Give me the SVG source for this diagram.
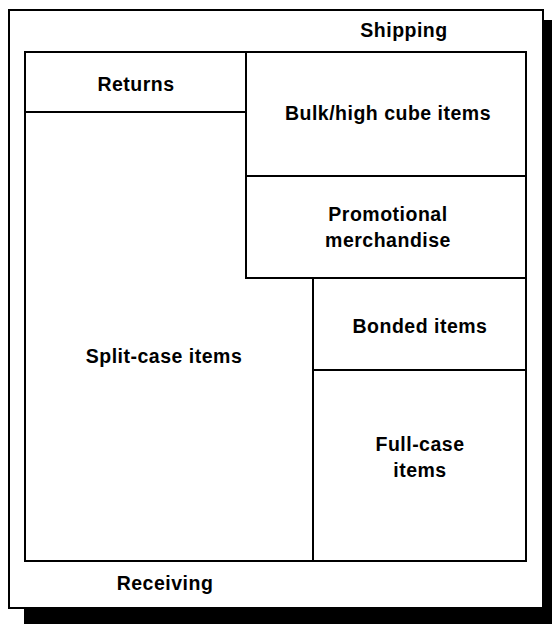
<svg xmlns="http://www.w3.org/2000/svg" width="552" height="624" viewBox="0 0 552 624">
<style>
.box{fill:none;stroke:#000;stroke-width:2;stroke-linejoin:miter}
.t{font-family:"Liberation Sans",Arial,Helvetica,sans-serif;font-weight:bold;font-size:19.5px;letter-spacing:0.5px;fill:#000;text-anchor:middle}
</style>
<rect x="0" y="0" width="552" height="624" fill="#fff"/>
<rect x="24" y="20" width="530" height="606" fill="#000"/>
<g id="frame">
<rect x="9" y="10" width="534" height="598" fill="#fff" stroke="#000" stroke-width="2"/>
<text class="t" x="404" y="37">Shipping</text>
<text class="t" x="165" y="590">Receiving</text>
</g>
<g id="returns">
<rect class="box" x="25" y="52" width="221" height="60"/>
<text class="t" x="136" y="91">Returns</text>
</g>
<g id="bulk">
<rect class="box" x="246" y="52" width="280" height="124"/>
<text class="t" x="388" y="120">Bulk/high cube items</text>
</g>
<g id="promotional">
<rect class="box" x="246" y="176" width="280" height="102"/>
<text class="t" x="388" y="221">Promotional</text>
<text class="t" x="388" y="247">merchandise</text>
</g>
<g id="split-case">
<path class="box" d="M25 112H246V278H313V561H25Z"/>
<text class="t" x="164" y="363">Split-case items</text>
</g>
<g id="bonded">
<rect class="box" x="313" y="278" width="213" height="92"/>
<text class="t" x="420" y="333">Bonded items</text>
</g>
<g id="full-case">
<rect class="box" x="313" y="370" width="213" height="191"/>
<text class="t" x="420" y="451">Full-case</text>
<text class="t" x="420" y="477">items</text>
</g>
<g id="connectors"></g>
</svg>
